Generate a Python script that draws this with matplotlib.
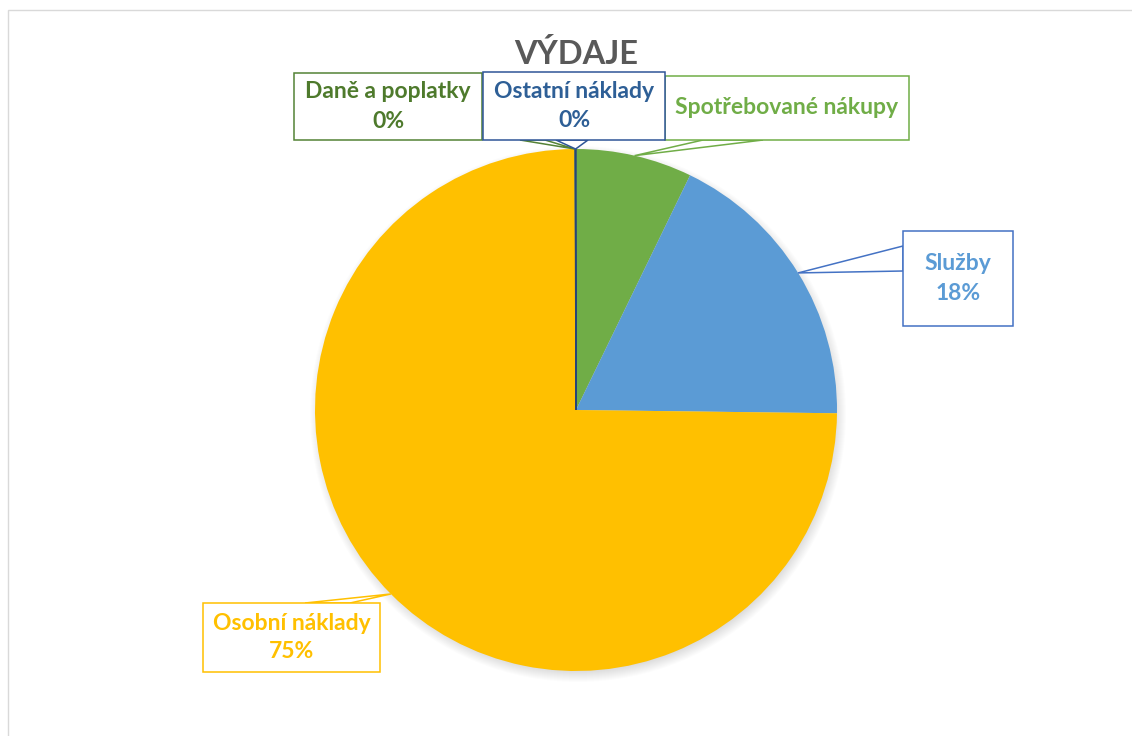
import matplotlib; matplotlib.use('Agg')
import matplotlib.pyplot as plt
from matplotlib.patches import Rectangle, Polygon, Circle
import numpy as np

W, H = 1132, 736
plt.rcParams['font.family'] = ['Lato', 'DejaVu Sans']

# data (share of expenses, %)
categories = ["Spotřebované nákupy", "Služby", "Osobní náklady", "Daně a poplatky", "Ostatní náklady"]
values = [7.2, 18.0, 74.7, 0.05, 0.05]
show_pct = [False, True, True, True, True]
slice_colors = ['#70AD47', '#5B9BD5', '#FFC000', '#43682B', '#264478']
text_colors = ['#70AD47', '#5B9BD5', '#FFC000', '#4E7A2C', '#2E5F96']
edge_colors = ['#70AD47', '#4472C4', '#FFC000', '#548235', '#2F5597']

# callout boxes in pixel coords (x0, y0, x1, y1) and wedge base points
boxes = [(665, 76, 909, 140), (903, 231, 1013, 326), (203, 603, 380, 672),
         (294, 73, 482, 140), (483, 72, 665, 140)]
bases = [((703, 140), (763, 140)), ((903, 246), (903, 271)), ((305, 603), (350, 603)),
         ((520, 140), (545, 140)), ((556, 140), (588, 140))]
zord = [5, 5, 5, 4, 6]

CX, CY, R = 576, 410, 261
def Y(py): return H - py

fig = plt.figure(figsize=(W/100, H/100), dpi=100)
ax = fig.add_axes([0, 0, 1, 1])

# chart area border
ax.add_patch(Rectangle((8, Y(10) - 800), 1200, 800, fill=False, ec='#D9D9D9', lw=1, zorder=0))

# soft shadow
for i in range(12):
    ax.add_patch(Circle((CX + 2, Y(CY) - 4), R + 7 - i, fc='black', alpha=0.012, ec='none', zorder=0.5))

wedges, _ = ax.pie(values, colors=slice_colors, startangle=90, counterclock=False,
                   center=(CX, Y(CY)), radius=R, frame=True,
                   wedgeprops=dict(linewidth=0))
for w, c in zip(wedges, slice_colors):
    w.set_zorder(1)
wedges[-1].set_edgecolor(slice_colors[-1]); wedges[-1].set_linewidth(1.0)

total = sum(values)
for i, w in enumerate(wedges):
    mid = np.deg2rad((w.theta1 + w.theta2) / 2)
    apex = (CX + R * np.cos(mid), Y(CY) + R * np.sin(mid))
    (bx0, by0), (bx1, by1) = bases[i]
    ax.add_patch(Polygon([(bx0, Y(by0)), apex, (bx1, Y(by1))], closed=True,
                         fc='white', ec=edge_colors[i], lw=1.1, zorder=zord[i]))
    x0, y0, x1, y1 = boxes[i]
    ax.add_patch(Rectangle((x0, Y(y1)), x1 - x0, y1 - y0, fc='white', ec=edge_colors[i],
                           lw=1.1, zorder=zord[i] + 0.1))
    xc, yc = (x0 + x1) / 2, (y0 + y1) / 2
    if show_pct[i]:
        ax.text(xc, Y(yc - 14.5), categories[i], ha='center', va='center', fontsize=16.5,
                fontweight='bold', color=text_colors[i], zorder=zord[i] + 0.2)
        ax.text(xc, Y(yc + 14.5), f"{round(values[i] / total * 100):.0f}%", ha='center',
                va='center', fontsize=16.5, fontweight='bold', color=text_colors[i], zorder=zord[i] + 0.2)
    else:
        ax.text(xc, Y(yc), categories[i], ha='center', va='center', fontsize=16.5,
                fontweight='bold', color=text_colors[i], zorder=zord[i] + 0.2)

ax.text(576, Y(54), "VÝDAJE", ha='center', va='center', fontsize=23.5, fontweight='bold',
        color='#595959', zorder=7)

ax.set_xlim(0, W); ax.set_ylim(0, H)
ax.set_aspect('equal')
ax.axis('off')
fig.savefig('out.png', dpi=100)
